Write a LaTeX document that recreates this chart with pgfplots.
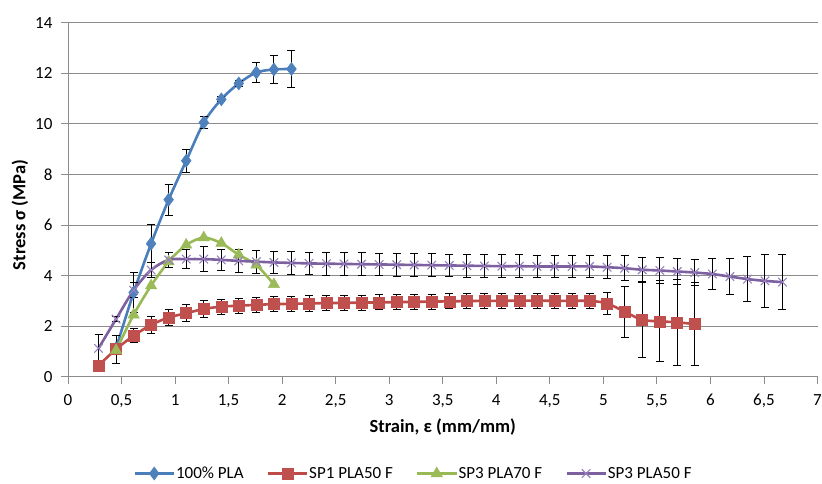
\documentclass[border=0pt]{standalone}
\usepackage{fontspec}
\setmainfont{Carlito}
\usepackage{pgfplots}
\usepackage{pgfplotstable}
\pgfplotsset{compat=1.18}
\definecolor{lblue}{HTML}{4A7EBB}
\definecolor{mblue}{HTML}{4F81BD}
\definecolor{lred}{HTML}{BE4B48}
\definecolor{mred}{HTML}{C0504D}
\definecolor{lgreen}{HTML}{98B954}
\definecolor{mgreen}{HTML}{9BBB59}
\definecolor{lpurple}{HTML}{7D60A0}
\definecolor{mpurple}{HTML}{9880C0}
\definecolor{axgray}{HTML}{8C8C8C}

\pgfplotstableread{
x y e
0.449 1.13 0.10
0.613 3.33 0.80
0.776 5.26 0.75
0.940 7.00 0.62
1.104 8.54 0.45
1.268 10.05 0.23
1.432 10.97 0.10
1.595 11.60 0.12
1.759 12.03 0.40
1.923 12.15 0.55
2.087 12.17 0.72
}\pla

\pgfplotstableread{
x y e
0.285 0.44 0.10
0.449 1.09 0.55
0.613 1.62 0.28
0.776 2.05 0.33
0.940 2.34 0.33
1.104 2.51 0.33
1.268 2.68 0.33
1.432 2.77 0.30
1.595 2.81 0.30
1.759 2.84 0.30
1.923 2.87 0.30
2.087 2.88 0.30
2.251 2.90 0.30
2.414 2.91 0.30
2.578 2.92 0.30
2.742 2.93 0.30
2.906 2.94 0.30
3.070 2.95 0.30
3.233 2.96 0.30
3.397 2.97 0.30
3.561 2.98 0.30
3.725 2.99 0.30
3.889 3.00 0.30
4.052 3.00 0.30
4.216 3.01 0.30
4.380 3.01 0.30
4.544 3.00 0.30
4.708 3.00 0.30
4.871 3.00 0.30
5.035 2.90 0.45
5.199 2.57 1.00
5.363 2.25 1.50
5.527 2.19 1.60
5.690 2.15 1.70
5.854 2.08 1.65
}\spa

\pgfplotstableread{
x y
0.449 1.04
0.613 2.45
0.776 3.60
0.940 4.55
1.104 5.21
1.268 5.50
1.432 5.28
1.595 4.82
1.759 4.42
1.923 3.65
}\spb

\pgfplotstableread{
x y e
0.285 1.12 0.55
0.449 2.28 0.10
0.613 3.42 0.30
0.776 4.22 0.30
0.940 4.62 0.28
1.104 4.65 0.37
1.268 4.65 0.50
1.432 4.62 0.42
1.595 4.58 0.45
1.759 4.55 0.45
1.923 4.52 0.45
2.087 4.50 0.45
2.251 4.48 0.45
2.414 4.47 0.45
2.578 4.46 0.45
2.742 4.45 0.45
2.906 4.44 0.45
3.070 4.43 0.45
3.233 4.42 0.45
3.397 4.41 0.45
3.561 4.40 0.45
3.725 4.39 0.45
3.889 4.38 0.45
4.052 4.37 0.45
4.216 4.37 0.45
4.380 4.36 0.45
4.544 4.36 0.45
4.708 4.36 0.45
4.871 4.36 0.45
5.035 4.33 0.45
5.199 4.29 0.50
5.363 4.23 0.50
5.527 4.20 0.50
5.690 4.16 0.50
5.854 4.12 0.50
6.018 4.06 0.60
6.182 3.96 0.70
6.346 3.86 0.88
6.509 3.79 1.05
6.673 3.74 1.10
}\spc

\begin{document}
\begin{tikzpicture}
\path[use as bounding box] (-68pt,-106.3pt) rectangle (754pt,376.7pt);
\begin{axis}[
  at={(0pt,0pt)}, anchor=south west,
  scale only axis, width=749.5pt, height=354pt,
  xmin=0, xmax=7, ymin=0, ymax=14,
  xtick={0,0.5,...,7}, ytick={0,2,...,14},
  axis x line*=bottom, axis y line*=left,
  axis line style={draw=axgray, line width=0.8pt, -},
  ymajorgrids, grid style={draw=axgray, line width=0.8pt},
  tick align=outside, major tick length=7pt,
  tick style={draw=axgray, line width=0.8pt},
  every tick label/.append style={font=\fontsize{17}{20}\selectfont},
  xticklabel style={yshift=-7pt},
  yticklabel style={xshift=-5pt},
  /pgf/number format/use comma,
  /pgf/number format/assume math mode=true,
  xlabel={Strain, ε (mm/mm)}, ylabel={Stress σ (MPa)},
  label style={font=\fontsize{18.5}{22}\selectfont\bfseries},
  xlabel style={at={(axis description cs:0.5,0)}, anchor=center, yshift=-50.3pt},
  ylabel style={at={(axis description cs:-0.064,0.457)}, anchor=center},
  legend columns=4,
  legend cell align=left,
  legend style={at={(0.4603,-0.2735)}, anchor=center, draw=none, fill=none,
    font=\fontsize{17}{20}\selectfont,
    nodes={inner xsep=1pt, inner ysep=1pt},
    /tikz/every even column/.append style={column sep=22pt}},
  legend image code/.code={\draw[mark repeat=2,mark phase=2,#1] plot coordinates {(0pt,0pt) (19.5pt,0pt) (39pt,0pt)};},
  error bars/error bar style={black, line width=0.9pt},
  error bars/error mark options={black, line width=0.9pt, mark size=4pt, rotate=90},
]
\addplot[color=lblue, line width=2.6pt, smooth, mark=diamond*, mark size=6.5pt,
  mark options={fill=mblue, draw=mblue, line width=0.5pt},
  error bars/.cd, y dir=both, y explicit]
  table[x=x, y=y, y error=e] {\pla};
\addlegendentry{100\% PLA}
\addplot[color=lred, line width=2.6pt, smooth, mark=square*, mark size=5.5pt,
  mark options={fill=mred, draw=mred, line width=0.5pt},
  error bars/.cd, y dir=both, y explicit]
  table[x=x, y=y, y error=e] {\spa};
\addlegendentry{SP1 PLA50 F}
\addplot[color=lgreen, line width=2.6pt, smooth, mark=triangle*, mark size=6.5pt,
  mark options={fill=mgreen, draw=mgreen, line width=0.5pt}]
  table[x=x, y=y] {\spb};
\addlegendentry{SP3 PLA70 F}
\addplot[color=lpurple, line width=2.6pt, smooth, mark=x, mark size=6pt,
  mark options={draw=mpurple, line width=1.1pt},
  error bars/.cd, y dir=both, y explicit]
  table[x=x, y=y, y error=e] {\spc};
\addlegendentry{SP3 PLA50 F}
\end{axis}
\end{tikzpicture}
\end{document}
